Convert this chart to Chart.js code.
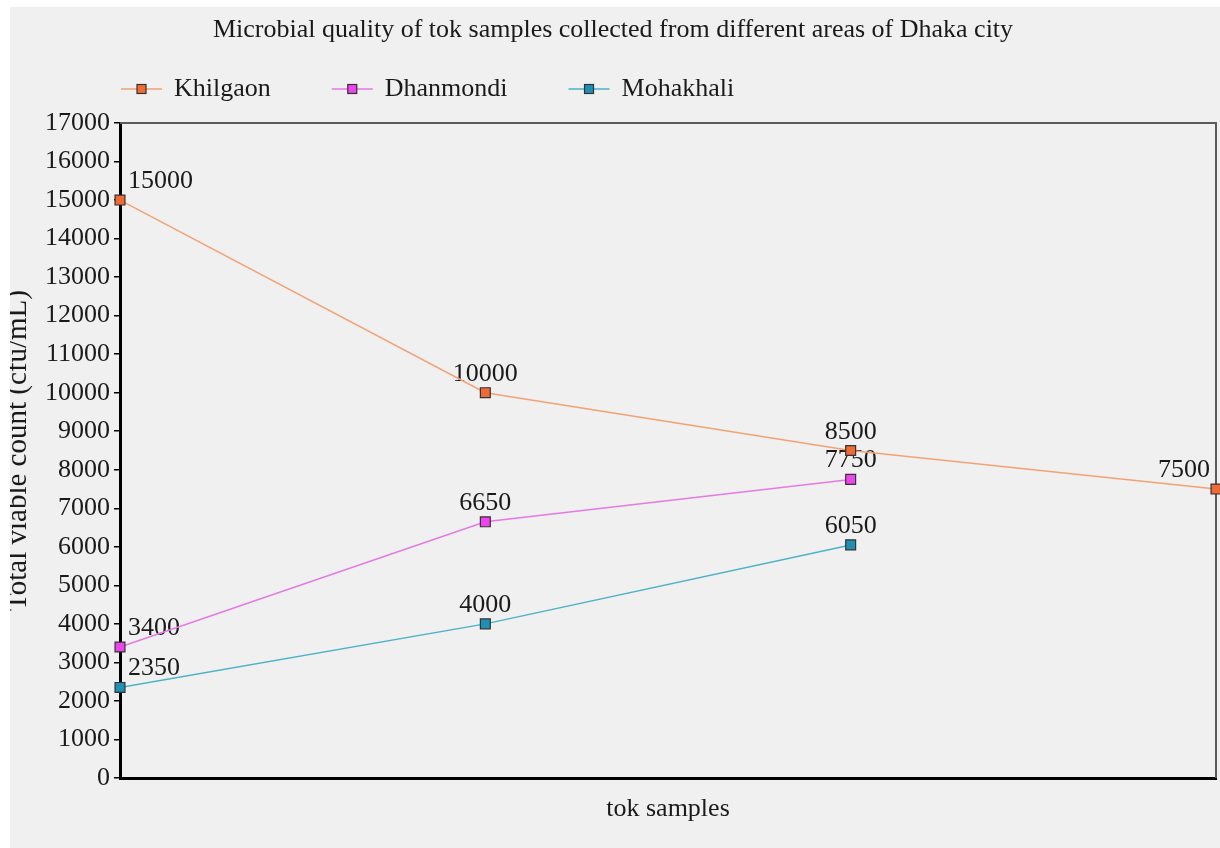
<!DOCTYPE html>
<html>
<head>
<meta charset="utf-8">
<script src="https://cdn.jsdelivr.net/npm/chart.js@4.4.1/dist/chart.umd.min.js"></script>
<style>
    body { margin: 0; background: #ffffff; }
    #wrap { position: absolute; left: 10px; top: 7px; width: 1210px; height: 841px; background: #f0f0f0; }
</style>
</head>
<body>
<div id="wrap"><canvas id="tokChart"></canvas></div>
<script>
// data
const sampleLabels = ['Sample 1', 'Sample 2', 'Sample 3', 'Sample 4'];
const khilgaon = [15000, 10000, 8500, 7500];
const dhanmondi = [3400, 6650, 7750, null];
const mohakhali = [2350, 4000, 6050, null];
const seriesNames = ['Khilgaon', 'Dhanmondi', 'Mohakhali'];

const serif = '"Liberation Serif", "Times New Roman", serif';
const textColor = '#1a1a1a';

function makeSeries(label, data, lineColor, pointColor) {
    return {
        label: label,
        data: data,
        borderColor: lineColor,
        borderWidth: 1.5,
        pointStyle: 'rect',
        pointRadius: 7,
        pointBackgroundColor: pointColor,
        pointBorderColor: '#333333',
        pointBorderWidth: 1.2,
        tension: 0,
        clip: false,
        spanGaps: false,
    };
}

// value labels next to each point
const valueLabels = {
    id: 'valueLabels',
    beforeDatasetsDraw(chart) {
        const ctx = chart.ctx;
        ctx.save();
        ctx.font = '26px ' + serif;
        ctx.fillStyle = textColor;
        ctx.textBaseline = 'alphabetic';
        chart.data.datasets.forEach((ds, i) => {
            const meta = chart.getDatasetMeta(i);
            const last = ds.data.length - 1;
            meta.data.forEach((pt, j) => {
                const v = ds.data[j];
                if (v === null || v === undefined) return;
                let x = pt.x;
                if (j === 0) { ctx.textAlign = 'left'; x += 8; }
                else if (j === last) { ctx.textAlign = 'right'; x -= 6; }
                else { ctx.textAlign = 'center'; }
                ctx.fillText(String(v), x, pt.y - 12);
            });
        });
        ctx.restore();
    },
};

// gray frame on top and right of the plot
const plotFrame = {
    id: 'plotFrame',
    beforeDatasetsDraw(chart) {
        const { ctx, chartArea } = chart;
        ctx.save();
        ctx.strokeStyle = '#5a5a5a';
        ctx.lineWidth = 2;
        ctx.beginPath();
        ctx.moveTo(chartArea.left, chartArea.top);
        ctx.lineTo(chartArea.right, chartArea.top);
        ctx.lineTo(chartArea.right, chartArea.bottom);
        ctx.stroke();
        ctx.restore();
    },
};

// legend: short line with a square marker, then the name
const lineLegend = {
    id: 'lineLegend',
    afterDraw(chart) {
        const ctx = chart.ctx;
        const y = 82;
        let x = 111;
        ctx.save();
        ctx.font = '26px ' + serif;
        ctx.textBaseline = 'middle';
        ctx.textAlign = 'left';
        chart.data.datasets.forEach((ds) => {
            ctx.strokeStyle = ds.borderColor;
            ctx.lineWidth = 1.5;
            ctx.beginPath();
            ctx.moveTo(x, y);
            ctx.lineTo(x + 41, y);
            ctx.stroke();
            ctx.fillStyle = ds.pointBackgroundColor;
            ctx.fillRect(x + 16, y - 4.5, 9, 9);
            ctx.strokeStyle = '#333333';
            ctx.lineWidth = 1.2;
            ctx.strokeRect(x + 16, y - 4.5, 9, 9);
            ctx.fillStyle = textColor;
            ctx.fillText(ds.label, x + 53, y);
            x += 53 + ctx.measureText(ds.label).width + 61;
        });
        ctx.restore();
    },
};

const tokChart = new Chart(document.getElementById('tokChart'), {
    type: 'line',
    data: {
        labels: sampleLabels,
        datasets: [
            makeSeries(seriesNames[0], khilgaon, '#f2a275', '#f06a36'),
            makeSeries(seriesNames[1], dhanmondi, '#e47ae4', '#ee44ee'),
            makeSeries(seriesNames[2], mohakhali, '#4db2c6', '#1d90b4'),
        ],
    },
    options: {
        responsive: true,
        maintainAspectRatio: false,
        animation: false,
        layout: { autoPadding: false, padding: { top: 0, left: 0, right: 4, bottom: 0 } },
        plugins: {
            legend: { display: false },
            tooltip: { enabled: false },
            title: {
                display: true,
                text: 'Microbial quality of tok samples collected from different areas of Dhaka city',
                color: textColor,
                font: { family: serif, size: 26, weight: 'normal' },
                padding: { top: 7.4, bottom: 77.4 },
            },
        },
        scales: {
            x: {
                offset: false,
                grid: { display: false },
                border: { display: true, color: '#000000', width: 3 },
                ticks: { display: false },
                title: {
                    display: true,
                    text: 'tok samples',
                    color: textColor,
                    font: { family: serif, size: 26 },
                    padding: { top: 0, bottom: 23.4 },
                },
                afterFit: (scale) => { scale.height = 70; },
            },
            y: {
                min: 0,
                max: 17000,
                grid: { drawOnChartArea: false, drawTicks: true, tickLength: 6, color: '#000000', lineWidth: 1.5 },
                border: { display: true, color: '#000000', width: 3 },
                ticks: {
                    stepSize: 1000,
                    color: textColor,
                    padding: 4,
                    font: { family: serif, size: 26 },
                    callback: (v) => String(v),
                },
                title: {
                    display: true,
                    text: 'Total viable count (cfu/mL)',
                    color: textColor,
                    font: { family: serif, size: 29, lineHeight: 1 },
                    padding: { top: -6.5, bottom: 0 },
                },
                afterFit: (scale) => { scale.width = 110; },
            },
        },
    },
    plugins: [valueLabels, plotFrame, lineLegend],
});
</script>
</body>
</html>
